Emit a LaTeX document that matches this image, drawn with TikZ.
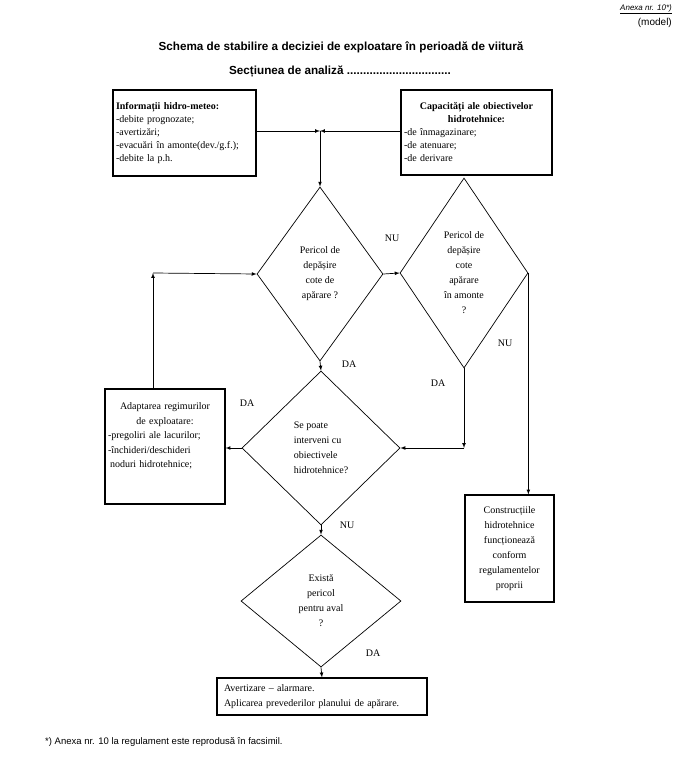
\documentclass[tikz,border=0pt]{standalone}
\usepackage{fontspec}
\setmainfont{Liberation Serif}
\setsansfont{Liberation Sans}
\usetikzlibrary{shapes.geometric,positioning}

\tikzstyle{box} = [draw, line width=1.1pt, inner xsep=3pt, inner ysep=0pt, font=\fontsize{10}{13}\selectfont]
\tikzstyle{decision} = [draw, diamond, line width=0.7pt, inner sep=0pt, align=center, font=\fontsize{10}{15}\selectfont]
\tikzstyle{arrow} = [->, >=latex, line width=0.7pt]
\tikzstyle{lbl} = [inner sep=0pt, font=\fontsize{10}{12}\selectfont]

\begin{document}
\begin{tikzpicture}[x=1pt,y=-1pt]
	\useasboundingbox (0,0) rectangle (681,768);
	% titles
	\node[anchor=east, inner sep=0pt, font=\sffamily\itshape\fontsize{8}{9}\selectfont] (anexa) at (672,9) {\underline{Anexa nr. 10*)}};
	\node[anchor=east, inner sep=0pt, font=\sffamily\fontsize{10}{12}\selectfont] (model) at (672,23) {(model)};
	\node[inner sep=0pt, font=\sffamily\bfseries\fontsize{11.7}{13}\selectfont] (title) at (341,47) {Schema de stabilire a deciziei de exploatare în perioadă de viitură};
	\node[inner sep=0pt, font=\sffamily\bfseries\fontsize{11.7}{13}\selectfont] (sect) at (340,72) {Secțiunea de analiză ................................};
	% boxes
	\node[box, text width=137, minimum height=86, align=left] (info) at (184.5,133) {\textbf{Informații hidro-meteo:}\\-debite prognozate;\\-avertizări;\\-evacuări în amonte(dev./g.f.);\\-debite la p.h.};
	\node[box, text width=145, minimum height=85, align=left] (cap) at (476.5,132.5) {{\centering\bfseries Capacități ale obiectivelor\\hidrotehnice:\par}-de înmagazinare;\\-de atenuare;\\-de derivare};
	\node[box, text width=114, minimum height=115, align=left, font=\fontsize{10}{14.5}\selectfont] (adapt) at (165,446.5) {{\centering Adaptarea regimurilor\\de exploatare:\par}-pregoliri ale lacurilor;\\-închideri/deschideri\\\hspace*{2pt}noduri hidrotehnice;\\[8pt]\mbox{}};
	\node[box, text width=83, minimum height=107, align=center, font=\fontsize{10}{15}\selectfont] (cons) at (509.5,548.5) {Construcțiile\\hidrotehnice\\funcționează\\conform\\regulamentelor\\proprii};
	\node[box, text width=196, inner xsep=7pt, minimum height=37, align=left, font=\fontsize{10}{15}\selectfont] (avert) at (322,696.5) {Avertizare -- alarmare.\\Aplicarea prevederilor planului de apărare.};
	% decisions
	\node[decision, minimum width=126, minimum height=174] (d1) at (320,274) {Pericol de\\depășire\\cote de\\apărare ?};
	\node[decision, minimum width=128, minimum height=190] (d2) at (464,273) {Pericol de\\depășire\\cote\\apărare\\în amonte\\?};
	\node[decision, minimum width=158, minimum height=154, align=left] (d3) at (321,448) {Se poate\\interveni cu\\obiectivele\\hidrotehnice?};
	\node[decision, minimum width=160, minimum height=132] (d4) at (321,601) {Există\\pericol\\pentru aval\\?};
	\coordinate (join) at (320,131);
	\coordinate (up) at (153,273);
	% connectors
	\draw[arrow] (info.east |- join) -- (join);
	\draw[arrow] (cap.west |- join) -- (join);
	\draw[arrow] (join) -- (d1.north);
	\draw[arrow] (d1.east) -- (d2.west);
	\draw[arrow] (d2.east) -- (d2.east |- cons.north);
	\draw[arrow] (d2.south) -- (d2.south |- d3.east);
	\draw[arrow] (d2.south |- d3.east) -- (d3.east);
	\draw[arrow] (d1.south) -- (d3.north);
	\draw[arrow] (d3.west) -- (adapt.east |- d3.west);
	\draw[arrow] (adapt.north -| up) -- (up);
	\draw[arrow] (up) -- (d1.west);
	\draw[arrow] (d3.south) -- (d4.north);
	\draw[arrow] (d4.south) -- (avert.north);
	% labels
	\node[lbl] (nu1) at (392,238) {NU};
	\node[lbl] (nu2) at (505,343) {NU};
	\node[lbl] (da1) at (349,364) {DA};
	\node[lbl] (da2) at (438,383) {DA};
	\node[lbl] (da3) at (247,403) {DA};
	\node[lbl] (nu3) at (347,525) {NU};
	\node[lbl] (da4) at (373,653) {DA};
	% footnote
	\node[anchor=west, inner sep=0pt, font=\sffamily\fontsize{9.5}{11}\selectfont] (note) at (45,742) {*) Anexa nr. 10 la regulament este reprodusă în facsimil.};
\end{tikzpicture}
\end{document}
